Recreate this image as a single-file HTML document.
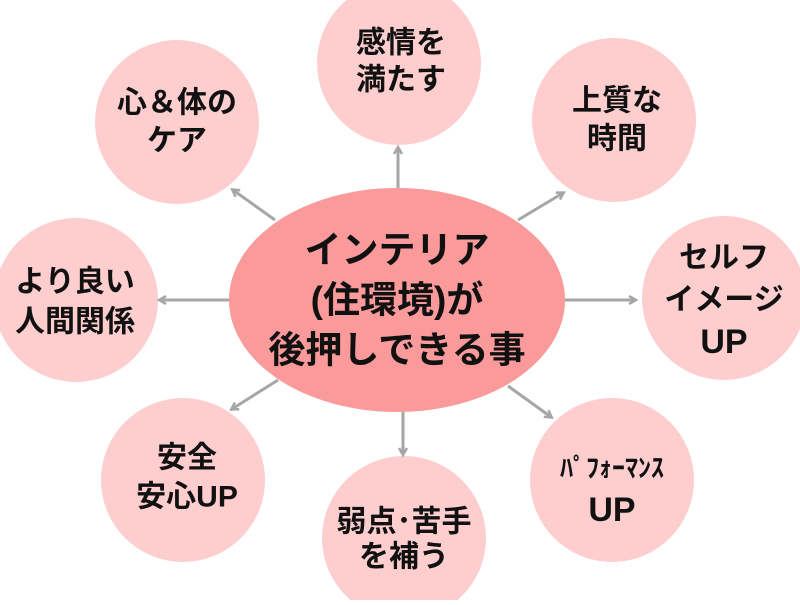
<!DOCTYPE html>
<html><head><meta charset="utf-8"><style>
html,body{margin:0;padding:0;background:#fff;}
svg text{font-family:"Liberation Sans","Noto Sans CJK JP",sans-serif;font-weight:bold;fill:#111;text-anchor:middle;dominant-baseline:central;}
</style></head><body>
<svg width="800" height="600" viewBox="0 0 800 600" xmlns="http://www.w3.org/2000/svg">
<defs><marker id="a" markerWidth="10" markerHeight="10" refX="7" refY="5" orient="auto" markerUnits="userSpaceOnUse"><path d="M1,1 L8,5 L1,9" fill="none" stroke="#a6a6a6" stroke-width="2.5"/></marker></defs>
<g fill="#fecdce">
<circle cx="399" cy="63" r="82"/>
<circle cx="177" cy="122" r="82"/>
<circle cx="614" cy="120" r="82"/>
<circle cx="724" cy="298" r="82"/>
<circle cx="76" cy="300" r="82"/>
<circle cx="183" cy="480" r="82"/>
<circle cx="404" cy="538" r="82"/>
<circle cx="612" cy="480" r="82"/>
</g>
<g stroke="#a6a6a6" stroke-width="3" marker-end="url(#a)">
<line x1="398" y1="190" x2="398" y2="148"/>
<line x1="403" y1="410" x2="403" y2="454"/>
<line x1="230" y1="300" x2="160" y2="300"/>
<line x1="565" y1="300" x2="635" y2="300"/>
<line x1="275" y1="220" x2="233" y2="190"/>
<line x1="518" y1="220" x2="563" y2="193"/>
<line x1="278" y1="380" x2="232" y2="409"/>
<line x1="508" y1="386" x2="551" y2="417"/>
</g>
<ellipse cx="397" cy="300" rx="168" ry="112" fill="#fb9a9a"/>
<g font-size="37">
<text x="397" y="250">インテリア</text>
<text x="397" y="300">(住環境)が</text>
<text x="397" y="350">後押しできる事</text>
</g>
<g font-size="30">
<text x="401" y="43">感情を</text><text x="401" y="80">満たす</text>
<text x="177" y="103">心＆体の</text><text x="177" y="141">ケア</text>
<text x="617" y="101">上質な</text><text x="617" y="139">時間</text>
<text x="724" y="258">セルフ</text><text x="724" y="300">イメージ</text><text x="724" y="342" font-size="34">UP</text>
<text x="75" y="282">より良い</text><text x="75" y="322">人間関係</text>
<text x="187" y="458">安全</text><text x="187" y="497">安心UP</text>
<text x="404" y="522">弱点･苦手</text><text x="404" y="557">を補う</text>
<text x="612" y="468" font-size="26">ﾊﾟﾌｫｰﾏﾝｽ</text><text x="612" y="510" font-size="34">UP</text>
</g>
</svg>
</body></html>
